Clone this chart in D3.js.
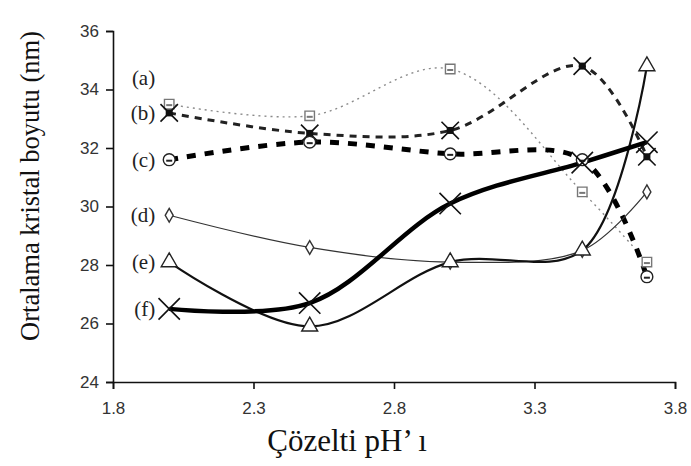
<!DOCTYPE html>
<html>
<head>
<meta charset="utf-8">
<script src="https://cdn.jsdelivr.net/npm/d3@7/dist/d3.min.js"></script>
<style>
  body { margin: 0; background: #fff; }
  svg { display: block; }
</style>
</head>
<body>
<svg id="chart" width="691" height="466"></svg>
<script>
// pH values and mean crystal sizes (nm)
const ph = [2.0, 2.5, 3.0, 3.47, 3.7]

const ser_a = [33.5, 33.1, 34.7, 30.5, 28.1]
const ser_b = [33.2, 32.5, 32.6, 34.8, 31.7]
const ser_c = [31.6, 32.2, 31.8, 31.6, 27.6]
const ser_d = [29.7, 28.6, 28.1, 28.5, 30.5]
const ser_e = [28.1, 25.9, 28.1, 28.5, 34.8]
const ser_f = [26.5, 26.7, 30.1, 31.5, 32.2]

const series_names = ["(a)", "(b)", "(c)", "(d)", "(e)", "(f)"]
const label_values = [34.4, 33.2, 31.6, 29.7, 28.1, 26.5]

const x_ticks = [1.8, 2.3, 2.8, 3.3, 3.8]
const y_ticks = [24, 26, 28, 30, 32, 34, 36]

const styles = [
  {stroke: "#8a8a8a", width: 1.4, dash: "2,4", marker: "square", size: 90, mcolor: "#777"},
  {stroke: "#222", width: 3, dash: "7,6", marker: "x", size: 200, mcolor: "#111"},
  {stroke: "#000", width: 5, dash: "9,9", marker: "circle", size: 110, mcolor: "#222"},
  {stroke: "#333", width: 1.2, dash: null, marker: "diamond", size: 55, mcolor: "#333"},
  {stroke: "#111", width: 2.2, dash: null, marker: "triangle", size: 110, mcolor: "#222"},
  {stroke: "#000", width: 4.5, dash: null, marker: "x", size: 300, mcolor: "#111"},
]

const all_series = [ser_a, ser_b, ser_c, ser_d, ser_e, ser_f]

const margin = {top: 31, right: 16, bottom: 84, left: 113}

const svg = d3.select("#chart")

const x = d3.scaleLinear().domain([1.8, 3.8]).range([margin.left, 675])
const y = d3.scaleLinear().domain([24, 36]).range([382, margin.top])

// axes
svg.append("g")
  .attr("transform", "translate(0,382)")
  .call(d3.axisBottom(x).tickValues(x_ticks).tickFormat(d3.format(".1f")).tickSizeOuter(0).tickSize(7))
  .call(g => g.selectAll("text").attr("font-family", "Liberation Sans, Arial, sans-serif").attr("font-size", 17).attr("fill", "#333").attr("dy", "1.3em"))
  .call(g => g.selectAll("line, path").attr("stroke", "#111").attr("stroke-width", 1.6))

svg.append("g")
  .attr("transform", `translate(${margin.left},0)`)
  .call(d3.axisLeft(y).tickValues(y_ticks).tickSizeOuter(0).tickSize(7))
  .call(g => g.selectAll("text").attr("font-family", "Liberation Sans, Arial, sans-serif").attr("font-size", 17).attr("fill", "#333").attr("x", -14))
  .call(g => g.selectAll("line, path").attr("stroke", "#111").attr("stroke-width", 1.6))

// axis titles
svg.append("text")
  .attr("transform", "translate(39,186) rotate(-90)")
  .attr("text-anchor", "middle")
  .attr("font-family", "Liberation Serif, Times New Roman, serif")
  .attr("font-size", 26.5)
  .attr("fill", "#111")
  .text("Ortalama kristal boyutu (nm)")

svg.append("text")
  .attr("x", 347)
  .attr("y", 451)
  .attr("text-anchor", "middle")
  .attr("font-family", "Liberation Serif, Times New Roman, serif")
  .attr("font-size", 31)
  .attr("fill", "#111")
  .text("Çözelti pH’ ı")

// lines
const line = d3.line()
  .x((d, i) => x(ph[i]))
  .y(d => y(d))
  .curve(d3.curveCatmullRom.alpha(0.5))

all_series.forEach((s, k) => {
  const st = styles[k]
  svg.append("path")
    .datum(s)
    .attr("d", line)
    .attr("fill", "none")
    .attr("stroke", st.stroke)
    .attr("stroke-width", st.width)
    .attr("stroke-dasharray", st.dash)
    .attr("stroke-linecap", "butt")
})

// markers
const symbol_types = {
  square: d3.symbolSquare,
  circle: d3.symbolCircle,
  diamond: d3.symbolDiamond,
  triangle: d3.symbolTriangle,
  x: d3.symbolX,
}

all_series.forEach((s, k) => {
  const st = styles[k]
  const g = svg.append("g")
  g.selectAll("path")
    .data(s)
    .enter()
    .append("path")
    .attr("transform", (d, i) => `translate(${x(ph[i])},${y(d)})`)
    .attr("d", d3.symbol().type(symbol_types[st.marker]).size(st.size))
    .attr("fill", st.marker == "x" ? "none" : "#fff")
    .attr("stroke", st.mcolor)
    .attr("stroke-width", st.marker == "x" ? 1.6 : 1.4)

  if (st.marker == "square" || st.marker == "circle") {
    // small inner bar like the original markers
    g.selectAll("line")
      .data(s)
      .enter()
      .append("line")
      .attr("x1", (d, i) => x(ph[i]) - 3)
      .attr("x2", (d, i) => x(ph[i]) + 3)
      .attr("y1", d => y(d) + 1)
      .attr("y2", d => y(d) + 1)
      .attr("stroke", st.mcolor)
      .attr("stroke-width", 2)
  }
  if (k == 1) {
    g.selectAll("rect")
      .data(s)
      .enter()
      .append("rect")
      .attr("x", (d, i) => x(ph[i]) - 3.5)
      .attr("y", d => y(d) - 3.5)
      .attr("width", 7)
      .attr("height", 7)
      .attr("fill", "#111")
  }
})

// series labels
svg.selectAll(".series-label")
  .data(series_names)
  .enter()
  .append("text")
  .attr("class", "series-label")
  .attr("x", x(ph[0]) - 14)
  .attr("y", (d, i) => y(label_values[i]) + 7)
  .attr("text-anchor", "end")
  .attr("font-family", "Liberation Serif, Times New Roman, serif")
  .attr("font-size", 21)
  .attr("fill", "#222")
  .text(d => d)
</script>
</body>
</html>
